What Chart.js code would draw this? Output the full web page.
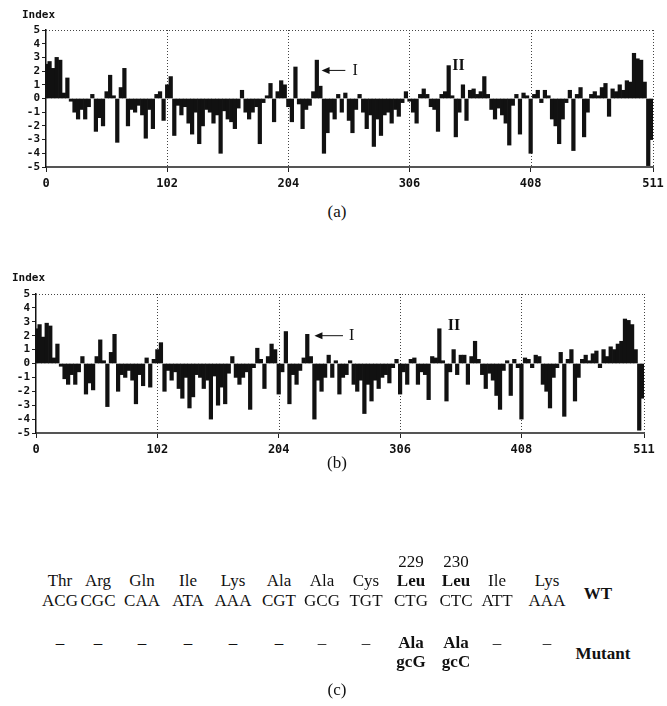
<!DOCTYPE html>
<html>
<head>
<meta charset="utf-8">
<script src="https://cdn.jsdelivr.net/npm/chart.js@4.4.0/dist/chart.umd.min.js"></script>
<style>
body { margin: 0; background: #fff; width: 667px; height: 706px; position: relative; overflow: hidden; color: #111; }
canvas { position: absolute; left: 0; }
.idx { position: absolute; font: bold 11px "DejaVu Sans Mono", monospace; }
.cap { position: absolute; font: 17px "Liberation Serif", serif; transform: translate(-50%, -50%); white-space: nowrap; }
.cell { position: absolute; font: 17px "Liberation Serif", serif; transform: translate(-50%, -50%); white-space: nowrap; }
.b { font-weight: bold; }
</style>
</head>
<body>
<canvas id="chartA" width="667" height="200" style="top:0"></canvas>
<canvas id="chartB" width="667" height="200" style="top:265px"></canvas>
<div class="idx" style="left:22px;top:8px">Index</div>
<div class="idx" style="left:12px;top:271px">Index</div>
<div class="cap" style="left:337px;top:212px">(a)</div>
<div class="cap" style="left:337px;top:463px">(b)</div>
<div class="cap" style="left:337px;top:690px">(c)</div>
<div id="table"></div>
<script>
// sequence positions on the x axis, one value every 3 residues
const residueStep = 3;
const xTickLabels = [0, 102, 204, 306, 408, 511];
const yTicks = [-5, 5];

// (a) wild type hydropathy index
const indexWT = [
  2.5, 2.7, 2.2, 3.0, 2.8, 0.4, 1.5, -0.2, -1.0, -1.5, -0.8, -1.5, -0.6, 0.3, -2.4, -1.4, -2.0, 0.5, 1.7, 0.2,
  -3.2, 0.8, 2.2, -2.0, -0.8, -1.0, -0.5, -1.2, -2.9, -0.8, -2.2, 0.3, 0.5, -1.6, 1.0, 1.6, -2.7, -0.5, -1.2, -0.6,
  -1.8, -2.6, -1.0, -3.3, -2.0, -0.8, -1.0, -1.8, -1.2, -4.0, -0.9, -1.5, -1.7, -2.2, -0.7, 0.6, -1.0, -1.5, -1.0, -0.6,
  -3.3, -0.3, 0.2, 1.1, -1.7, 0.5, 1.3, 1.0, -0.6, -1.7, 2.3, -0.4, -2.2, -0.8, -0.5, 0.5, 2.8, 0.9, -4.0, -2.5,
  -1.0, -1.5, 0.3, -1.0, 0.4, -1.6, -2.5, -0.8, 0.3, -1.0, -2.2, -1.2, -3.5, -1.5, -2.7, -1.2, -1.0, -1.8, -0.8, -1.3,
  -0.3, 0.5, -0.2, -1.0, -1.8, 0.3, 0.7, 0.3, -0.6, -0.8, -2.4, 0.3, 0.5, 2.4, 0.2, -2.8, -1.0, 1.0, -1.6, 0.6,
  0.7, 0.3, 0.5, 1.6, 0.3, -0.8, -1.5, -0.7, -1.2, -1.8, -3.4, -0.5, 0.3, -2.6, 0.4, 0.2, -4.0, 0.3, 0.6, -0.3,
  0.6, 0.2, -1.5, -2.0, -3.3, -1.5, -0.3, 0.6, -3.8, 0.3, 0.8, -2.8, -1.0, 0.3, 0.5, 0.2, 0.8, 1.1, -1.3, 0.7,
  0.5, 1.0, 0.6, 1.3, 1.2, 3.3, 2.9, 2.8, 1.2, -4.9, -3.0
];

// (b) mutant hydropathy index
const indexMutant = [
  2.5, 2.8, 1.9, 2.9, 2.7, 0.4, 1.4, -0.2, -1.1, -1.5, -0.8, -1.5, -0.6, 0.5, -2.2, -1.4, -1.9, 0.5, 1.7, 0.2,
  -3.1, 0.8, 2.1, -2.0, -0.8, -1.0, -0.5, -1.2, -2.9, -0.8, -1.6, 0.4, -1.7, 0.3, 1.0, 1.5, -2.0, -0.5, -1.2, -0.6,
  -1.8, -2.5, -1.0, -3.2, -2.4, -0.8, -1.0, -1.8, -1.2, -4.0, -0.9, -3.0, -1.7, -2.9, -0.7, 0.5, -1.0, -1.5, -1.0, -0.6,
  -3.3, -0.3, 1.1, 0.3, -1.8, 0.5, 1.4, 1.0, -2.2, -0.6, 2.3, -2.9, -0.8, -1.5, -0.5, 0.4, 2.1, 0.5, -4.0, -1.2,
  -2.0, -1.0, 0.6, -1.0, 0.2, -2.2, -1.0, -0.8, 0.2, -1.5, -2.0, -1.2, -3.6, -1.5, -2.7, -1.2, -1.8, -1.0, -0.8, -1.4,
  -0.3, 0.3, -2.2, -0.6, -1.5, 0.3, 0.4, -1.5, -0.6, -0.8, -2.6, 0.5, 0.4, 2.5, 0.2, -2.7, -0.6, 1.0, -0.8, 0.6,
  0.6, -1.5, 0.5, 1.6, 0.3, -0.8, -1.8, -0.7, -1.2, -2.3, -3.3, -0.5, 0.2, -2.3, 0.3, -0.3, -4.0, 0.4, 0.3, -0.3,
  0.6, 0.5, -1.5, -2.0, -3.2, -1.0, -0.3, 0.8, -3.8, 0.3, 1.0, -2.7, -1.0, 0.3, 0.6, 0.2, 0.7, 0.9, -0.3, 1.0,
  0.5, 1.2, 1.0, 1.4, 1.6, 3.2, 3.1, 2.8, 1.0, -4.8, -2.5
];

// (c) codon table
const residueNo = ['', '', '', '', '', '', '', '', '229', '230', '', ''];
const aminoWT = ['Thr', 'Arg', 'Gln', 'Ile', 'Lys', 'Ala', 'Ala', 'Cys', 'Leu', 'Leu', 'Ile', 'Lys'];
const codonWT = ['ACG', 'CGC', 'CAA', 'ATA', 'AAA', 'CGT', 'GCG', 'TGT', 'CTG', 'CTC', 'ATT', 'AAA'];
const aminoMutant = ['–', '–', '–', '–', '–', '–', '–', '–', 'Ala', 'Ala', '–', '–'];
const codonMutant = ['', '', '', '', '', '', '', '', 'gcG', 'gcC', '', ''];

// table layout
const colX = [60, 98, 142, 188, 233, 279, 322, 366, 411, 456, 497, 547];
const table = document.getElementById('table');
function cell(text, x, y, bold) {
    if (!text) return;
    const d = document.createElement('div');
    d.className = 'cell' + (bold ? ' b' : '');
    d.style.left = x + 'px';
    d.style.top = y + 'px';
    d.textContent = text;
    table.appendChild(d);
}
colX.forEach((x, i) => {
    const mutated = codonMutant[i] !== '';
    cell(residueNo[i], x, 562, false);
    cell(aminoWT[i], x, 581, mutated);
    cell(codonWT[i], x, 601, false);
    cell(aminoMutant[i], x, 643, mutated);
    cell(codonMutant[i], x, 662, true);
});
cell('WT', 598, 594, true);
cell('Mutant', 603, 654, true);

const framePlugin = {
    id: 'frame',
    beforeDatasetsDraw(chart) {
        const { ctx, chartArea: a, scales: { x } } = chart;
        ctx.save();
        ctx.strokeStyle = '#444';
        ctx.lineWidth = 1;
        ctx.setLineDash([1, 2]);
        ctx.beginPath();
        xTickLabels.slice(1).forEach(v => {
            const px = Math.round(x.getPixelForValue(v)) + 0.5;
            ctx.moveTo(px, a.top);
            ctx.lineTo(px, a.bottom);
        });
        ctx.moveTo(a.left, a.top + 0.5);
        ctx.lineTo(a.right, a.top + 0.5);
        ctx.stroke();
        ctx.restore();
    },
    afterDatasetsDraw(chart, args, opts) {
        const { ctx, scales: { x, y } } = chart;
        ctx.save();
        ctx.strokeStyle = '#111';
        ctx.fillStyle = '#111';
        ctx.lineWidth = 1;
        const ay = y.getPixelForValue(opts.arrowY);
        const x1 = x.getPixelForValue(opts.arrowFrom);
        const x2 = x.getPixelForValue(opts.arrowTo);
        ctx.beginPath();
        ctx.moveTo(x1, ay);
        ctx.lineTo(x2 + 6, ay);
        ctx.stroke();
        ctx.beginPath();
        ctx.moveTo(x2, ay);
        ctx.lineTo(x2 + 8, ay - 3.5);
        ctx.lineTo(x2 + 8, ay + 3.5);
        ctx.closePath();
        ctx.fill();
        ctx.font = '16px "Liberation Serif", serif';
        ctx.textBaseline = 'middle';
        ctx.fillText('I', x.getPixelForValue(opts.labelI), ay);
        ctx.font = 'bold 16px "Liberation Serif", serif';
        ctx.fillText('II', x.getPixelForValue(opts.labelII[0]), y.getPixelForValue(opts.labelII[1]));
        ctx.restore();
    }
};

function makeChart(id, values, box, notes) {
    const points = values.map((v, i) => ({ x: i * residueStep, y: v }));
    return new Chart(document.getElementById(id), {
        type: 'bar',
        data: {
            datasets: [{
                data: points,
                backgroundColor: '#111',
                borderWidth: 0,
                barPercentage: 1,
                categoryPercentage: 1
            }]
        },
        options: {
            responsive: false,
            animation: false,
            devicePixelRatio: 1,
            layout: { padding: { left: 0, right: box.right, top: box.top, bottom: 0 } },
            plugins: { legend: { display: false }, tooltip: { enabled: false }, frame: notes },
            scales: {
                x: {
                    type: 'linear',
                    offset: false,
                    min: 0,
                    max: 511,
                    afterBuildTicks: scale => { scale.ticks = xTickLabels.map(v => ({ value: v })); },
                    afterFit: scale => { scale.height = box.xHeight; scale.paddingLeft = 0; scale.paddingRight = 0; },
                    ticks: {
                        autoSkip: false,
                        maxRotation: 0,
                        padding: 5,
                        color: '#111',
                        font: { family: 'DejaVu Sans Mono', size: 12, weight: 'bold' }
                    },
                    grid: { offset: false, drawOnChartArea: false, drawTicks: true, tickLength: 5, color: '#222' },
                    border: { color: '#555', width: 2 }
                },
                y: {
                    min: yTicks[0],
                    max: yTicks[1],
                    afterFit: scale => { scale.width = box.left; },
                    ticks: {
                        stepSize: 1,
                        autoSkip: false,
                        padding: 2,
                        color: '#111',
                        font: { family: 'DejaVu Sans Mono', size: 11, weight: 'bold' }
                    },
                    grid: { drawOnChartArea: false, drawTicks: true, tickLength: 4, color: '#222' },
                    border: { color: '#111', width: 1.5 }
                }
            }
        },
        plugins: [framePlugin]
    });
}

makeChart('chartA', indexWT, { left: 46, right: 14, top: 30, xHeight: 33 },
    { arrowFrom: 252, arrowTo: 232, arrowY: 2.05, labelI: 258, labelII: [342, 2.4] });
makeChart('chartB', indexMutant, { left: 36, right: 23, top: 29, xHeight: 32 },
    { arrowFrom: 258, arrowTo: 234, arrowY: 2.0, labelI: 263, labelII: [346, 2.7] });
</script>
</body>
</html>
